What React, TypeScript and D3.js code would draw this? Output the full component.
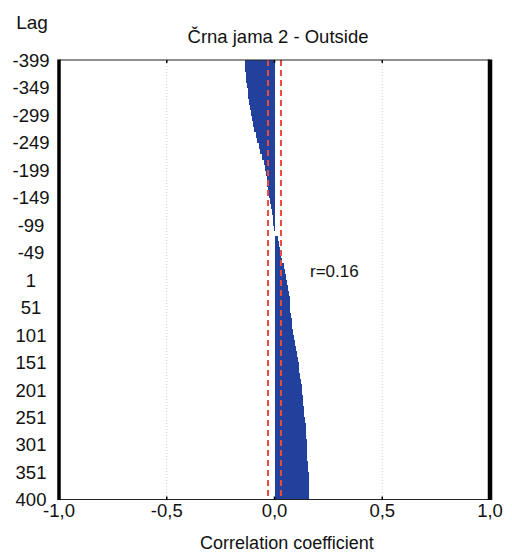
import React from "react";
import * as d3 from "d3";

// Lag blocks (each block covers 10 consecutive lags, starting at these lags)
const lagStarts: number[] = d3.range(-399, 400, 10);
// Cross-correlation coefficient per lag block
const corrValues: number[] = [
  -0.138, -0.135, -0.132, -0.130, -0.127, -0.125, -0.123, -0.119, -0.115, -0.110,
  -0.105, -0.099, -0.094, -0.088, -0.081, -0.073, -0.065, -0.057, -0.050, -0.043,
  -0.039, -0.036, -0.033, -0.029, -0.025, -0.020, -0.016, -0.012, -0.009, -0.006,
  -0.003, 0.002, 0.014, 0.021, 0.025, 0.028, 0.036, 0.043, 0.049, 0.055,
  0.060, 0.064, 0.067, 0.070, 0.071, 0.073, 0.076, 0.079, 0.082, 0.086,
  0.091, 0.095, 0.098, 0.103, 0.107, 0.112, 0.116, 0.120, 0.123, 0.126,
  0.128, 0.131, 0.134, 0.136, 0.139, 0.141, 0.144, 0.146, 0.148, 0.149,
  0.150, 0.152, 0.153, 0.155, 0.157, 0.158, 0.158, 0.158, 0.159, 0.160,
];
const yTickLabels: number[] = [-399, -349, -299, -249, -199, -149, -99, -49, 1, 51, 101, 151, 201, 251, 301, 351, 400];
const xTickValues: number[] = [-1, -0.5, 0, 0.5, 1];
const confLimits: number[] = [-0.03, 0.03];
const title = "Črna jama 2 - Outside";
const annotation = "r=0.16";

const W = 512;
const H = 555;
const L = 59;
const R = 490;
const T = 60;
const B = 499.5;
const FONT = "Arial, 'Liberation Sans', sans-serif";

export default function App() {
  const x = d3.scaleLinear().domain([-1, 1]).range([L, R]);
  const y = d3.scaleLinear().domain([-399.5, 400.5]).range([T, B]);
  const fmt = (v: number) => d3.format(".1f")(v).replace(".", ",").replace("−", "-");

  return (
    <svg
      width={W}
      height={H}
      style={{ position: "absolute", left: 0, top: 0, background: "#fff" }}
      fontFamily={FONT}
    >
      <rect x={0} y={0} width={W} height={H} fill="#fff" />
      {/* grid */}
      {[-0.5, 0.5].map((v) => (
        <line key={"g" + v} x1={x(v)} x2={x(v)} y1={T} y2={B} stroke="#d0d0d0" strokeWidth={1} strokeDasharray="1,2" />
      ))}
      {/* bars */}
      <g shapeRendering="crispEdges">
        {lagStarts.map((s, i) => {
          const e = Math.min(s + 9, 400);
          const v = corrValues[i];
          const y0 = y(s - 0.5);
          const y1 = y(e + 0.5);
          return (
            <rect
              key={"b" + s}
              x={Math.min(x(0), x(v))}
              width={Math.abs(x(v) - x(0))}
              y={y0}
              height={y1 - y0 + 0.8}
              fill="#21419C"
            />
          );
        })}
      </g>
      {/* confidence lines */}
      {confLimits.map((c) => (
        <line key={"c" + c} x1={x(c)} x2={x(c)} y1={T} y2={B} stroke="#E94A3C" strokeWidth={2} strokeDasharray="6,4" />
      ))}
      {/* frame */}
      <line x1={L} x2={R} y1={T} y2={T} stroke="#222" strokeWidth={1.2} />
      <line x1={L} x2={R} y1={B} y2={B} stroke="#222" strokeWidth={1.2} />
      <line x1={L} x2={L} y1={T - 0.6} y2={B + 0.6} stroke="#000" strokeWidth={3.5} />
      <line x1={R} x2={R} y1={T - 0.6} y2={B + 0.6} stroke="#000" strokeWidth={4.5} />
      {/* x ticks */}
      {xTickValues.map((v) => (
        <g key={"xt" + v}>
          <line x1={x(v)} x2={x(v)} y1={T} y2={T + 3} stroke="#000" strokeWidth={1.5} />
          <line x1={x(v)} x2={x(v)} y1={B - 3} y2={B} stroke="#000" strokeWidth={1.5} />
          <text x={x(v)} y={517} textAnchor="middle" fontSize={18.5} fill="#111">
            {fmt(v)}
          </text>
        </g>
      ))}
      {/* y tick labels */}
      {yTickLabels.map((l) => (
        <text key={"yt" + l} x={31} y={y(l)} dy="0.36em" textAnchor="middle" fontSize={18.5} fill="#111">
          {l}
        </text>
      ))}
      <text x={32} y={29} textAnchor="middle" fontSize={19} fill="#111">Lag</text>
      <text x={278} y={43} textAnchor="middle" fontSize={18.5} fill="#111">{title}</text>
      <text x={287} y={549} textAnchor="middle" fontSize={18} fill="#111">Correlation coefficient</text>
      <text x={310} y={277} textAnchor="start" fontSize={17} fill="#111">{annotation}</text>
    </svg>
  );
}
